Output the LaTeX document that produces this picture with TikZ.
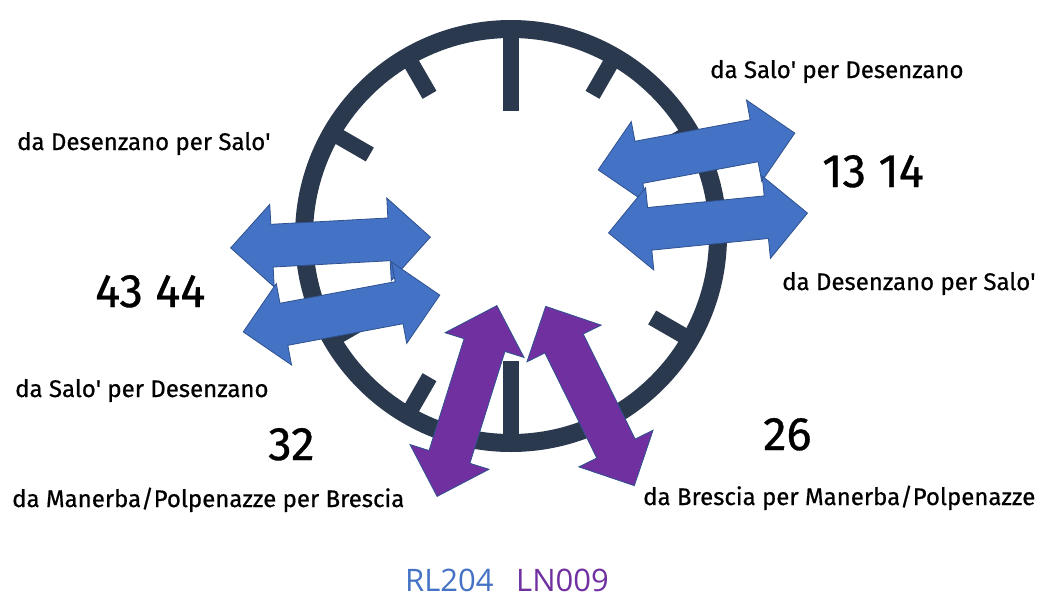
\documentclass[tikz,border=0pt]{standalone}
\usepackage{fontspec}
\setmainfont{Fira Sans}
\newfontfamily\labelfont{Fira Sans}[UprightFeatures={FakeBold=0.7}]
\newfontfamily\linefont{Open Sans}
\usetikzlibrary{shapes.arrows}
\definecolor{clockcol}{RGB}{43,57,78}
\definecolor{arrowblue}{RGB}{68,114,196}
\definecolor{arrowedge}{RGB}{47,82,143}
\definecolor{arrowpurple}{RGB}{112,48,160}
\newcommand{\apos}{\textquotesingle}
\begin{document}
\begin{tikzpicture}[x=1pt,y=1pt]
      \tikzset{lbl/.style={anchor=base west,inner sep=0pt,font=\labelfont\fontsize{24}{28}\selectfont},
        num/.style={anchor=base west,inner sep=0pt,font=\labelfont\fontsize{47}{52}\selectfont},
        linelbl/.style={anchor=base west,inner sep=0pt,font=\linefont\fontsize{31}{34}\selectfont},
        tickline/.style={draw=clockcol,line width=16pt},
        barrow/.style={double arrow,double arrow head extend=20pt,minimum height=200pt,
          inner xsep=0pt,inner ysep=21pt,fill=arrowblue,draw=arrowedge,line width=0.8pt},
        parrow/.style={barrow,fill=arrowpurple}}
      \useasboundingbox (0,0) rectangle (1040,-597);
        \coordinate (c) at (511,-236);
        \draw[clockcol,line width=18pt] (c) circle (207);
        \foreach \a in{0,90,180,270}
        \draw[tickline] ([shift={(\a:200)}]c)--([shift={(\a:125)}]c);
        \foreach \a in{30,60,120,150,210,240,300,330}
        \draw[tickline] ([shift={(\a:200)}]c)--([shift={(\a:163)}]c);

       % Salo'-Desenzano
       \node[barrow,rotate=3.1] (lu) at (330.5,-242.5) {};
       \node[barrow,rotate=10.6] (ll) at (341.5,-313.5) {};
       \node[barrow,rotate=10.6] (ru) at (696.5,-151.5) {};
       \node[barrow,rotate=5.7] (rl) at (708,-223) {};
       % Brescia
       \node[parrow,rotate=116.3] (pr) at (590,-396) {};
       \node[parrow,rotate=72.6] (pl) at (467,-401) {};

       \node[lbl] (tl) at (17,-150) {da Desenzano per Salo\apos};
       \node[num] (n43) at (95,-307) {43 44};
       \node[lbl] (bl) at (15,-397) {da Salo\apos{} per Desenzano};
       \node[num] (n32) at (268,-460) {32};
       \node[lbl] (ml) at (12,-507) {da Manerba/Polpenazze per Brescia};
       \node[lbl] (tr) at (710,-78) {da Salo\apos{} per Desenzano};
       \node[num] (n13) at (822,-187) {13 14};
       \node[lbl] (br) at (782,-290) {da Desenzano per Salo\apos};
       \node[num] (n26) at (763,-450) {26};
       \node[lbl] (mr) at (643,-505) {da Brescia per Manerba/Polpenazze};
       \node[linelbl,text=arrowblue] (rl204) at (405,-591) {RL204};
       \node[linelbl,text=arrowpurple] (ln009) at (516,-591) {LN009};
    \end{tikzpicture}
\end{document}
